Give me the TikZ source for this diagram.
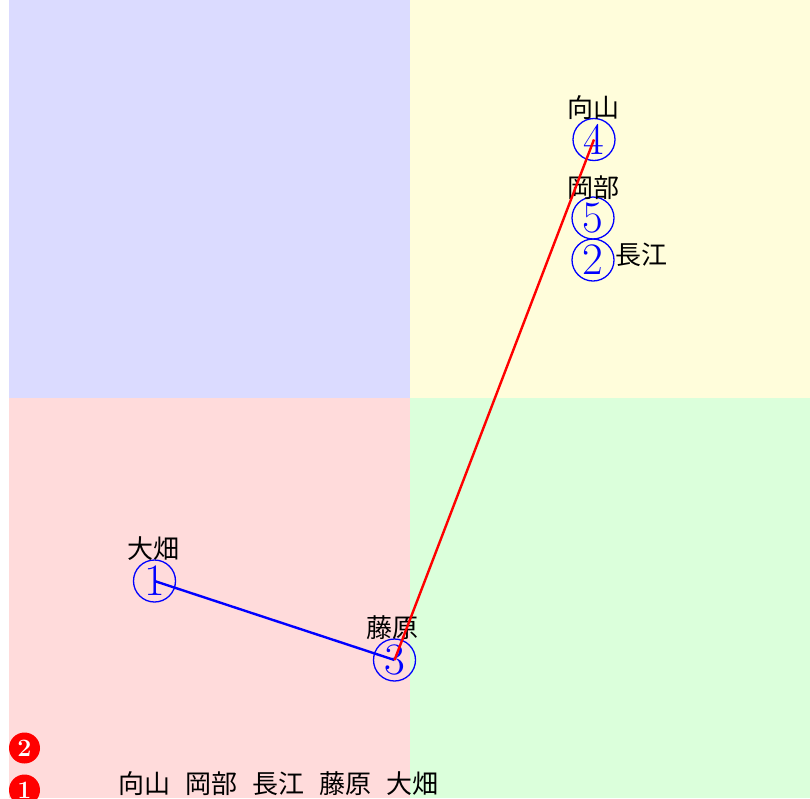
\documentclass[tikz,border=0pt]{standalone}
\usepackage{fontspec}
\newfontfamily\jpfont{Noto Sans CJK JP}
\begin{document}
\begin{tikzpicture}[x=1pt,y=-1pt,
  num/.style={circle,draw=blue,line width=1.3pt,text=blue,minimum size=42pt,inner sep=0pt,font=\fontsize{45}{45}\selectfont},
  lab/.style={font=\jpfont\fontsize{26}{26}\selectfont,inner sep=0pt},
  redmark/.style={circle,fill=red,minimum size=31pt,inner sep=0pt,text=white,font=\fontsize{25}{25}\selectfont\bfseries},
  edge/.style={line width=2.4pt}]
\useasboundingbox (0,0) rectangle (810,798);
\fill[blue!14] (8.5,0) rectangle (409.5,397.5);
\fill[yellow!14] (409.5,0) rectangle (810,397.5);
\fill[red!14] (8.5,397.5) rectangle (409.5,798);
\fill[green!14] (409.5,397.5) rectangle (810,798);
\node[num] (n1) at (154.5,581) {1};
\node[num] (n3) at (394.5,660) {3};
\node[num] (n4) at (594,139.5) {4};
\node[num] (n5) at (593,218) {5};
\node[num] (n2) at (593,260) {2};
\node[lab] (l1) at (153,549) {大畑};
\node[lab] (l3) at (392,628) {藤原};
\node[lab] (l4) at (593,108) {向山};
\node[lab] (l5) at (593,188) {岡部};
\node[lab] (l2) at (641,255) {長江};
\draw[edge,blue] (n1.center) -- (n3.center);
\draw[edge,red] (n3.center) -- (n4.center);
\node[redmark] (m2) at (24.5,748) {2};
\node[redmark] (m1) at (24.5,790) {1};
\node[lab,anchor=west] (order) at (118,784) {向山\hspace{15pt}岡部\hspace{15pt}長江\hspace{15pt}藤原\hspace{15pt}大畑};
\end{tikzpicture}
\end{document}
